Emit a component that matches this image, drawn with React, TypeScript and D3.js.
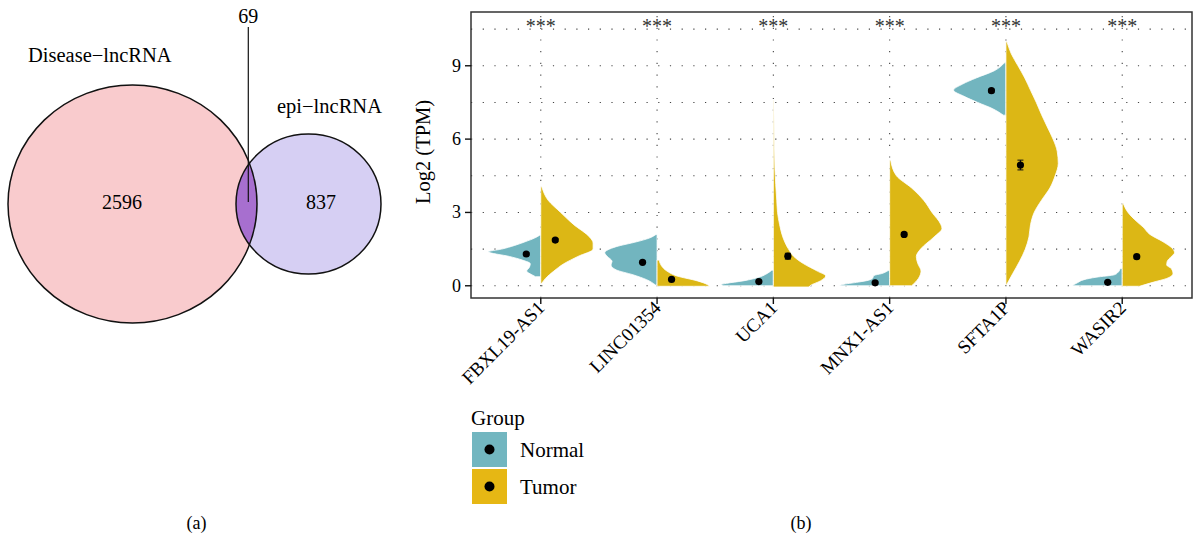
import React from 'react';
import * as d3 from 'd3';

// ---- Venn data (a)
const vennSets = ['Disease\u2212lncRNA', 'epi\u2212lncRNA'];
const vennOnly = [2596, 837];
const vennOverlap = 69;

// ---- violin data (b)
const categories = ['FBXL19-AS1', 'LINC01354', 'UCA1', 'MNX1-AS1', 'SFTA1P', 'WASIR2'];
const groups = ['Normal', 'Tumor'];
const normalMeans = [1.3, 0.96, 0.17, 0.12, 7.98, 0.14];
const tumorMeans = [1.87, 0.26, 1.21, 2.1, 4.94, 1.19];
const normalSE = [0.05, 0.05, 0.03, 0.03, 0.06, 0.03];
const tumorSE = [0.06, 0.04, 0.12, 0.08, 0.2, 0.06];
const signif = ['***', '***', '***', '***', '***', '***'];
const yTicks = [0, 3, 6, 9];
const yMinor = [1.5, 4.5, 7.5, 10.5];

// density outlines: [log2 TPM, relative half width]
const normalDensity: [number, number][][] = [
  [[0.37, 0.1], [0.45, 0.17], [0.6, 0.27], [0.75, 0.22], [0.9, 0.2], [1.05, 0.35], [1.2, 0.6], [1.39, 1.0], [1.5, 0.75], [1.65, 0.5], [1.8, 0.3], [1.95, 0.12], [2.07, 0.02]],
  [[0.03, 0.03], [0.25, 0.2], [0.45, 0.46], [0.65, 0.78], [0.85, 0.88], [1.0, 0.86], [1.2, 0.95], [1.35, 1.0], [1.6, 0.78], [1.8, 0.39], [1.95, 0.15], [2.1, 0.02]],
  [[0.0, 0.95], [0.05, 1.0], [0.1, 0.9], [0.2, 0.58], [0.37, 0.25], [0.5, 0.12], [0.64, 0.03]],
  [[0.0, 0.96], [0.05, 0.9], [0.15, 0.6], [0.23, 0.4], [0.3, 0.33], [0.42, 0.3], [0.5, 0.15], [0.62, 0.03]],
  [[6.98, 0.05], [7.25, 0.26], [7.5, 0.54], [7.75, 0.8], [8.0, 1.0], [8.25, 0.83], [8.5, 0.57], [8.8, 0.22], [9.12, 0.03]],
  [[0.0, 0.96], [0.12, 0.86], [0.25, 0.73], [0.35, 0.5], [0.45, 0.15], [0.55, 0.08], [0.71, 0.04]],
];
const tumorDensity: [number, number][][] = [
  [[0.1, 0.02], [0.3, 0.09], [0.6, 0.25], [0.9, 0.44], [1.2, 0.71], [1.5, 1.0], [1.75, 1.0], [2.0, 0.93], [2.5, 0.63], [3.0, 0.38], [3.5, 0.14], [4.05, 0.02]],
  [[-0.02, 1.0], [0.05, 0.96], [0.2, 0.77], [0.4, 0.38], [0.6, 0.19], [0.8, 0.09], [1.05, 0.04]],
  [[-0.05, 0.68], [0.0, 0.7], [0.2, 0.9], [0.4, 1.0], [0.6, 0.84], [0.9, 0.58], [1.2, 0.39], [1.5, 0.29], [2.0, 0.18], [2.5, 0.12], [3.0, 0.08], [3.5, 0.065], [4.8, 0.03], [7.6, 0.01]],
  [[0.0, 0.42], [0.3, 0.55], [0.6, 0.6], [0.9, 0.54], [1.2, 0.51], [1.5, 0.59], [2.0, 0.85], [2.35, 1.0], [2.5, 0.98], [3.0, 0.81], [3.5, 0.65], [4.0, 0.42], [4.5, 0.13], [5.14, 0.02]],
  [[0.03, 0.01], [0.5, 0.13], [1.0, 0.26], [1.5, 0.37], [2.0, 0.44], [2.5, 0.47], [3.0, 0.54], [3.5, 0.68], [4.0, 0.84], [4.5, 0.94], [5.0, 1.0], [5.5, 0.98], [6.0, 0.9], [6.5, 0.79], [7.0, 0.68], [7.5, 0.58], [8.0, 0.47], [8.5, 0.36], [9.0, 0.23], [9.5, 0.1], [9.98, 0.02]],
  [[-0.02, 0.33], [0.15, 0.6], [0.3, 0.85], [0.5, 0.97], [0.7, 0.94], [0.85, 0.85], [1.0, 0.86], [1.2, 0.94], [1.35, 1.0], [1.5, 0.97], [1.8, 0.78], [2.1, 0.53], [2.4, 0.4], [2.7, 0.24], [3.0, 0.11], [3.37, 0.02]],
];

const colors = { Normal: '#72b5bf', Tumor: '#dcb715' };
const legendColors = { Normal: '#72b6c0', Tumor: '#e6b714' };
const font = '"Liberation Serif", "Times New Roman", serif';

const W = 1193;
const H = 546;
const panel = { left: 471, right: 1192, top: 12, bottom: 298 };

const VennPanel = () => {
  const big = { cx: 132.5, cy: 204, rx: 124.5, ry: 119 };
  const small = { cx: 308.5, cy: 204, rx: 72.5, ry: 70 };
  return (
    <g>
      <defs>
        <clipPath id="bigClip">
          <ellipse cx={big.cx} cy={big.cy} rx={big.rx} ry={big.ry} />
        </clipPath>
      </defs>
      <ellipse cx={big.cx} cy={big.cy} rx={big.rx} ry={big.ry} fill="#f9cbcd" />
      <ellipse cx={small.cx} cy={small.cy} rx={small.rx} ry={small.ry} fill="#d6cff3" />
      <ellipse cx={small.cx} cy={small.cy} rx={small.rx} ry={small.ry} fill="#a76fcf" clipPath="url(#bigClip)" />
      <ellipse cx={big.cx} cy={big.cy} rx={big.rx} ry={big.ry} fill="none" stroke="#111" strokeWidth={1.5} />
      <ellipse cx={small.cx} cy={small.cy} rx={small.rx} ry={small.ry} fill="none" stroke="#111" strokeWidth={1.5} />
      <line x1={248.3} x2={248.3} y1={27} y2={202} stroke="#111" strokeWidth={1.2} />
      <text x={248.3} y={23} textAnchor="middle" fontSize={20}>{vennOverlap}</text>
      <text x={28} y={62} fontSize={20.5}>{vennSets[0]}</text>
      <text x={277} y={113} fontSize={20.5}>{vennSets[1]}</text>
      <text x={122} y={209} textAnchor="middle" fontSize={20}>{vennOnly[0]}</text>
      <text x={321} y={209} textAnchor="middle" fontSize={20}>{vennOnly[1]}</text>
      <text x={196.5} y={529} textAnchor="middle" fontSize={18}>(a)</text>
    </g>
  );
};

const ViolinPanel = () => {
  const x = d3.scalePoint<string>().domain(categories).range([panel.left, panel.right]).padding(0.6);
  const y = d3.scaleLinear().domain([-0.5, 11.2]).range([panel.bottom, panel.top]);
  const hw = x.step() * 0.45;
  const dodge = 14.5;

  const areaFor = (cx: number, side: number) =>
    d3.area<[number, number]>()
      .y((d) => y(d[0]))
      .x0(cx)
      .x1((d) => cx + side * d[1] * hw)
      .curve(d3.curveMonotoneY);

  const grid = '1.2 10.5';
  return (
    <g>
      {/* grid */}
      {[...yTicks, ...yMinor].map((t) => (
        <line key={'h' + t} x1={panel.left} x2={panel.right} y1={y(t)} y2={y(t)}
          stroke="#444" strokeWidth={1.1} strokeDasharray={grid} />
      ))}
      {categories.map((c) => (
        <line key={'v' + c} x1={x(c)} x2={x(c)} y1={panel.bottom} y2={panel.top}
          stroke="#444" strokeWidth={1.1} strokeDasharray={grid} />
      ))}
      {/* violins */}
      {categories.map((c, i) => {
        const cx = x(c) as number;
        return (
          <g key={c}>
            <path d={areaFor(cx, -1)(normalDensity[i]) as string} fill={colors.Normal} stroke="#fff" strokeWidth={0.8} />
            <path d={areaFor(cx, 1)(tumorDensity[i]) as string} fill={colors.Tumor} stroke="#fff" strokeWidth={0.8} />
          </g>
        );
      })}
      {/* means with error bars */}
      {categories.map((c, i) => {
        const cx = x(c) as number;
        const pts = [
          { px: cx - dodge, m: normalMeans[i], se: normalSE[i] },
          { px: cx + dodge, m: tumorMeans[i], se: tumorSE[i] },
        ];
        return pts.map((p, j) => (
          <g key={c + j}>
            <line x1={p.px} x2={p.px} y1={y(p.m - p.se)} y2={y(p.m + p.se)} stroke="#111" strokeWidth={1.2} />
            <line x1={p.px - 3} x2={p.px + 3} y1={y(p.m - p.se)} y2={y(p.m - p.se)} stroke="#111" strokeWidth={1} />
            <line x1={p.px - 3} x2={p.px + 3} y1={y(p.m + p.se)} y2={y(p.m + p.se)} stroke="#111" strokeWidth={1} />
            <circle cx={p.px} cy={y(p.m)} r={3.6} fill="#000" />
          </g>
        ));
      })}
      {/* significance */}
      {categories.map((c, i) => (
        <text key={'s' + c} x={x(c)} y={33} textAnchor="middle" fontSize={20} fill="#333">{signif[i]}</text>
      ))}
      {/* frame */}
      <rect x={panel.left} y={panel.top} width={panel.right - panel.left} height={panel.bottom - panel.top}
        fill="none" stroke="#333" strokeWidth={1.5} />
      {/* y axis */}
      {yTicks.map((t) => (
        <g key={'yt' + t}>
          <line x1={panel.left - 6} x2={panel.left} y1={y(t)} y2={y(t)} stroke="#111" strokeWidth={1.4} />
          <text x={panel.left - 10} y={y(t) + 6} textAnchor="end" fontSize={18}>{t}</text>
        </g>
      ))}
      <text transform={`translate(430,152) rotate(-90)`} textAnchor="middle" fontSize={20.5}>Log2 (TPM)</text>
      {/* x axis */}
      {categories.map((c) => (
        <g key={'xt' + c}>
          <line x1={x(c)} x2={x(c)} y1={panel.bottom} y2={panel.bottom + 6} stroke="#111" strokeWidth={1.4} />
          <text transform={`translate(${(x(c) as number) + 5},309) rotate(-45)`} textAnchor="end" fontSize={19}>{c}</text>
        </g>
      ))}
      {/* legend */}
      <text x={471} y={425} fontSize={21}>Group</text>
      {groups.map((g, i) => (
        <g key={g} transform={`translate(472,${432 + i * 37})`}>
          <rect width={35} height={35} fill={legendColors[g as 'Normal' | 'Tumor']} />
          <circle cx={17.5} cy={17.5} r={5} fill="#000" />
          <text x={48} y={24.5} fontSize={21}>{g}</text>
        </g>
      ))}
      <text x={801} y={529} textAnchor="middle" fontSize={18}>(b)</text>
    </g>
  );
};

export default function App() {
  return (
    <svg width={W} height={H} style={{ position: 'absolute', left: 0, top: 0, background: '#fff' }}
      fontFamily={font}>
      <rect width={W} height={H} fill="#fff" />
      <VennPanel />
      <ViolinPanel />
    </svg>
  );
}
